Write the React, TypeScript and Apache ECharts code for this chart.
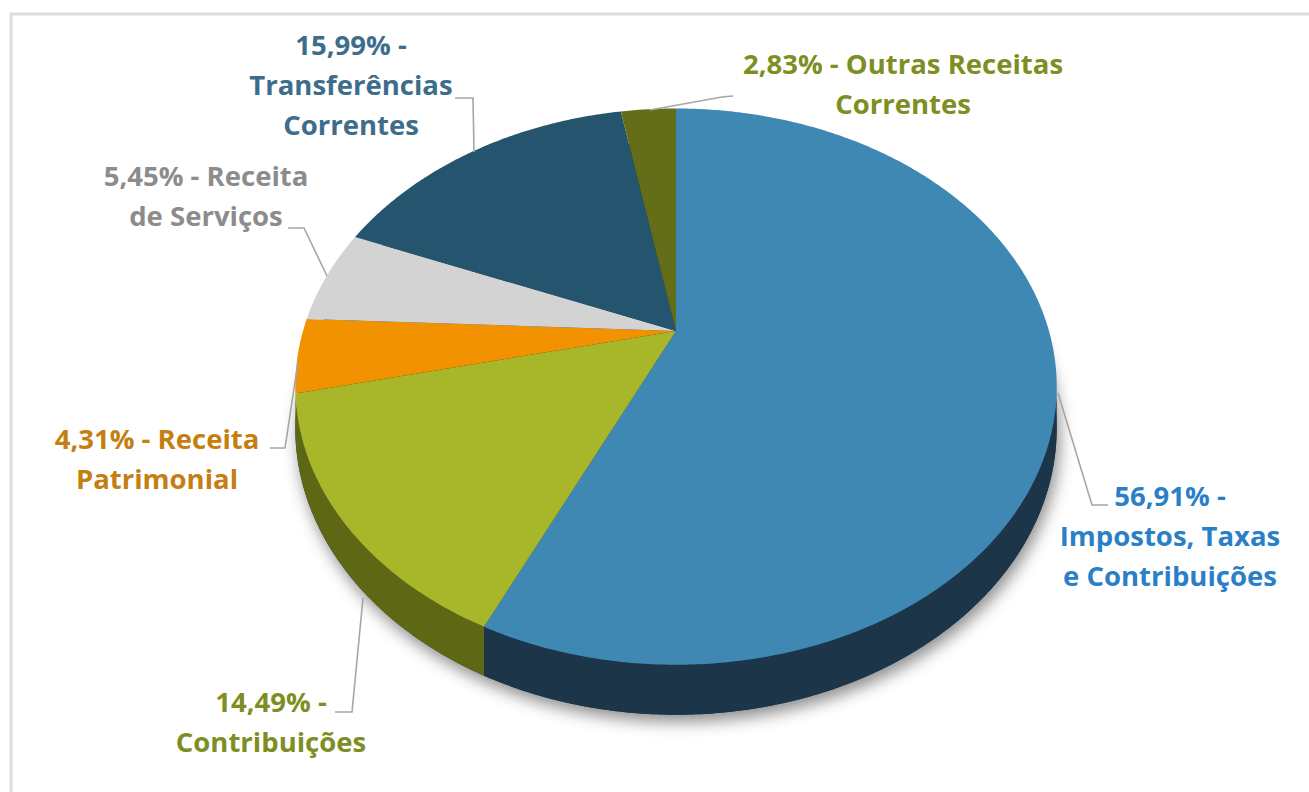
import React, { useEffect, useRef } from "react";
import * as echarts from "echarts";

// ---- data ----
const categories = [
  "Impostos, Taxas\ne Contribuições",
  "Contribuições",
  "Receita\nPatrimonial",
  "Receita\nde Serviços",
  "Transferências\nCorrentes",
  "Outras Receitas\nCorrentes",
];
const values = [56.91, 14.49, 4.31, 5.45, 15.99, 2.83];
const separators = [" -\n", " -\n", " - ", " - ", " -\n", " - "];

// ---- styles / layout ----
const topColors = ["#3f88b4", "#a8b62a", "#f39200", "#d3d3d3", "#25546f", "#646d18"];
const sideColors = ["#1c3549", "#5e6814", "#b36b00", "#9c9c9c", "#173447", "#434912"];
const labelColors = ["#2b7fc6", "#7d8f22", "#c57f10", "#8c8c8c", "#3e6d8c", "#7d8f22"];
const labelAnchors = [
  [1170, 535],
  [271, 721],
  [157, 458],
  [206, 195],
  [351, 84],
  [903, 83],
];
const leaderLines = [
  [[1108, 505], [1092, 505], [1058, 393]],
  [[335, 712], [352, 712], [363, 598]],
  [[270, 448], [285, 448], [298, 362]],
  [[288, 228], [304, 228], [327, 276]],
  [[455, 98], [473, 98], [474, 152]],
  [[733, 96], [722, 97], [650, 110]],
];

const CX = 676;
const CY = 331;
const RX = 373;
const RY = 267;
const K = 0.2;
const DEPTH = 40;

const total = values.reduce((a, b) => a + b, 0);
const starts: number[] = [];
{
  let acc = 0;
  values.forEach((v) => {
    starts.push((acc / total) * Math.PI * 2);
    acc += v;
  });
}

function project(theta: number, drop: number): number[] {
  const x = Math.sin(theta);
  const z = Math.cos(theta);
  const d = 1 + K * z;
  return [CX + (RX * x) / d, CY - (RY * z) / d + (DEPTH * drop) / d];
}

function arc(a0: number, a1: number, drop: number): number[][] {
  const n = Math.max(2, Math.ceil(Math.abs(a1 - a0) / (Math.PI / 360)));
  const pts: number[][] = [];
  for (let i = 0; i <= n; i++) {
    pts.push(project(a0 + ((a1 - a0) * i) / n, drop));
  }
  return pts;
}

const T1 = Math.acos(-K);
const T2 = Math.PI * 2 - Math.acos(-K);

function fmt(v: number) {
  return v.toFixed(2).replace(".", ",") + "%";
}

export default function App() {
  const ref = useRef<HTMLDivElement>(null);
  useEffect(() => {
    if (!ref.current) return;
    const chart = echarts.init(ref.current, undefined, { renderer: "svg" });
    const renderItem = (params: any, api: any) => {
      const i = params.dataIndex;
      const v = api.value(0);
      const a0 = starts[i];
      const a1 = a0 + (v / total) * Math.PI * 2;
      const children: any[] = [];
      if (i === 0) {
        children.push({
          type: "polygon",
          z2: -5,
          shape: { points: arc(0, Math.PI * 2, 1) },
          style: {
            fill: sideColors[0],
            shadowBlur: 16,
            shadowColor: "rgba(0,0,0,0.45)",
            shadowOffsetX: 3,
            shadowOffsetY: 7,
          },
        });
      }
      const lo = Math.max(a0, T1);
      const hi = Math.min(a1, T2);
      if (lo < hi) {
        const pts = arc(lo, hi, 0).concat(arc(hi, lo, 1));
        children.push({
          type: "polygon",
          z2: 1,
          shape: { points: pts },
          style: { fill: sideColors[i] },
        });
      }
      children.push({
        type: "polygon",
        z2: 10,
        shape: { points: [[CX, CY]].concat(arc(a0, a1, 0)) },
        style: { fill: topColors[i] },
      });
      children.push({
        type: "polyline",
        z2: 20,
        shape: { points: leaderLines[i] },
        style: { stroke: "#a6a6a6", lineWidth: 1.6, fill: null },
      });
      children.push({
        type: "text",
        z2: 30,
        style: {
          text: fmt(v) + separators[i] + categories[i],
          x: labelAnchors[i][0],
          y: labelAnchors[i][1],
          align: "center",
          verticalAlign: "middle",
          fill: labelColors[i],
          fontFamily: "Open Sans",
          fontWeight: "bold",
          fontSize: 27.5,
          lineHeight: 40,
        },
      });
      return { type: "group", children };
    };
    chart.setOption({
      animation: false,
      backgroundColor: "#ffffff",
      graphic: [
        {
          type: "rect",
          shape: { x: 11, y: 14, width: 1400, height: 900 },
          style: { fill: null, stroke: "#dcdcdc", lineWidth: 3 },
          silent: true,
        },
      ],
      series: [
        {
          type: "custom",
          coordinateSystem: "none",
          renderItem,
          data: values.map((v, i) => ({ value: [v], name: categories[i] })),
        },
      ],
    });
    return () => chart.dispose();
  }, []);
  return (
    <div
      ref={ref}
      style={{ position: "fixed", left: 0, top: 0, width: 1309, height: 792 }}
    />
  );
}
